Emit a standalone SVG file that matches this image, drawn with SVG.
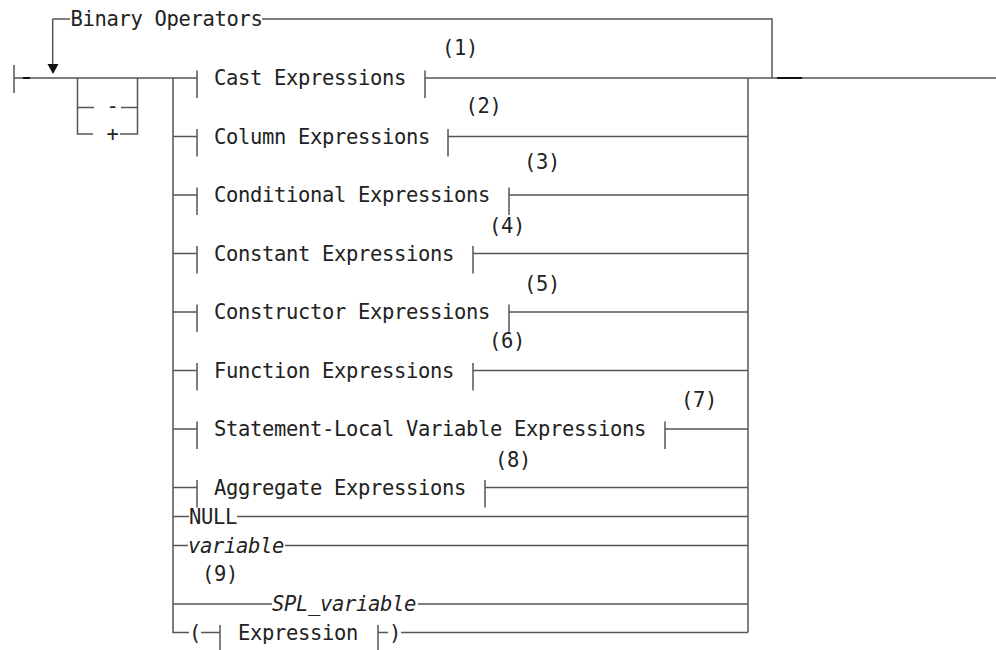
<svg xmlns="http://www.w3.org/2000/svg" width="996" height="650" viewBox="0 0 996 650">
<style>
.ln{stroke:#555;stroke-width:1.5;fill:none}
.dk{stroke:#111;stroke-width:2;fill:none}
.t{font-family:"DejaVu Sans Mono","Liberation Mono",monospace;font-size:20.5px;letter-spacing:-0.34px;fill:#222}
.i{font-style:italic}
.n{text-anchor:middle}
</style>
<rect width="996" height="650" fill="#fff"/>
<g id="connectors">
<!-- start tick and main line -->
<path class="ln" d="M14,65 V93 M14,78 H197"/>
<path class="dk" d="M23,78 H30"/>
<!-- repeat loop -->
<path class="ln" d="M52.7,19 V64 M52.7,19 H70 M262,19 H772 V78"/>
<polygon points="47.5,64 58.5,64 53,74" fill="#111"/>
<!-- sign loop -->
<path class="ln" d="M77.5,78 V134 H93 M120,134 H137.5 V78 M77.5,107.5 H94 M121,107.5 H137.5"/>
<!-- left/right rails -->
<path class="ln" d="M173,78 V632.5 H189"/>
<path class="ln" d="M748,78 V632.5"/>
<!-- exit -->
<path class="ln" d="M425,78 H996"/>
<path class="dk" d="M777,78 H802"/>
<!-- row lines -->
<path class="ln" d="M173,136.5 H197 M448,136.5 H748"/>
<path class="ln" d="M173,195 H197 M509,195 H748"/>
<path class="ln" d="M173,253.5 H197 M473,253.5 H748"/>
<path class="ln" d="M173,312 H197 M509,312 H748"/>
<path class="ln" d="M173,370.5 H197 M473,370.5 H748"/>
<path class="ln" d="M173,429 H197 M665,429 H748"/>
<path class="ln" d="M173,487.5 H197 M485,487.5 H748"/>
<path class="ln" d="M173,516.5 H189 M237,516.5 H748"/>
<path class="ln" d="M173,545.5 H188 M285,545.5 H748"/>
<path class="ln" d="M173,604 H272 M418,604 H748"/>
<path class="ln" d="M201,632.5 H220 M378,632.5 H388 M401,632.5 H748"/>
</g>
<g id="binary-operators"><text class="t" x="70.5" y="26">Binary Operators</text></g>
<g id="minus"><text class="t n" x="112.5" y="113">-</text></g>
<g id="plus"><text class="t n" x="112.5" y="141">+</text></g>
<g id="cast">
<path class="ln" d="M197,70.5 V98 M425,70.5 V98"/>
<text class="t" x="214" y="85">Cast Expressions</text>
<text class="t n" x="460" y="54.5">(1)</text>
</g>
<g id="column">
<path class="ln" d="M197,129 V156.5 M448,129 V156.5"/>
<text class="t" x="214" y="143.5">Column Expressions</text>
<text class="t n" x="483.5" y="112.5">(2)</text>
</g>
<g id="conditional">
<path class="ln" d="M197,187.5 V215 M509,187.5 V215"/>
<text class="t" x="214" y="202">Conditional Expressions</text>
<text class="t n" x="542" y="169">(3)</text>
</g>
<g id="constant">
<path class="ln" d="M197,246 V273.5 M473,246 V273.5"/>
<text class="t" x="214" y="260.5">Constant Expressions</text>
<text class="t n" x="507" y="232.5">(4)</text>
</g>
<g id="constructor">
<path class="ln" d="M197,304.5 V332 M509,304.5 V332"/>
<text class="t" x="214" y="319">Constructor Expressions</text>
<text class="t n" x="542" y="290.5">(5)</text>
</g>
<g id="function">
<path class="ln" d="M197,363 V390.5 M473,363 V390.5"/>
<text class="t" x="214" y="377.5">Function Expressions</text>
<text class="t n" x="507" y="347.5">(6)</text>
</g>
<g id="statement-local">
<path class="ln" d="M197,421.5 V449 M665,421.5 V449"/>
<text class="t" x="214" y="436">Statement-Local Variable Expressions</text>
<text class="t n" x="699" y="406.5">(7)</text>
</g>
<g id="aggregate">
<path class="ln" d="M197,480 V507.5 M485,480 V507.5"/>
<text class="t" x="214" y="494.5">Aggregate Expressions</text>
<text class="t n" x="513" y="466.5">(8)</text>
</g>
<g id="null"><text class="t" x="189" y="523.5">NULL</text></g>
<g id="variable"><text class="t i" x="188" y="552.5">variable</text></g>
<g id="spl-variable">
<text class="t n" x="220" y="580.5">(9)</text>
<text class="t i" x="272" y="611">SPL_variable</text>
</g>
<g id="expression">
<text class="t" x="189" y="639.5">(</text>
<path class="ln" d="M220,625 V652 M378,625 V652"/>
<text class="t" x="238" y="639.5">Expression</text>
<text class="t" x="389" y="639.5">)</text>
</g>
</svg>
